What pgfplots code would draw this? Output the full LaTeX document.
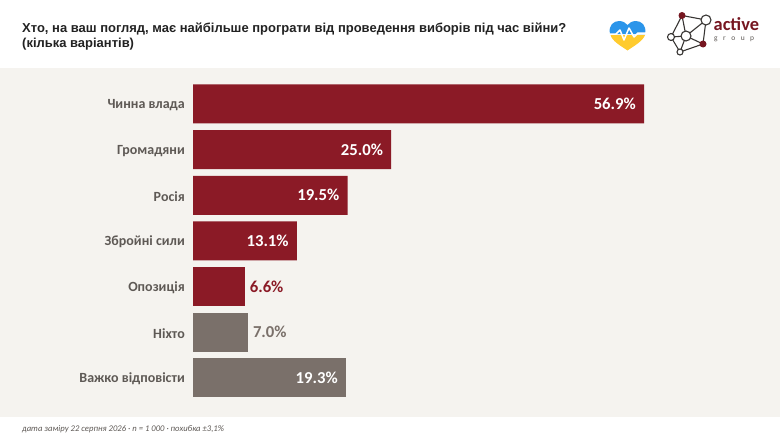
\documentclass[border=0pt]{standalone}
\usepackage{pgfplots}
\usepackage{fontspec}
\pgfplotsset{compat=1.18}
\setmainfont{Carlito}
\newfontfamily\titlefont{Liberation Sans}
\definecolor{barred}{HTML}{8B1A26}
\definecolor{bargray}{HTML}{7A706A}
\definecolor{panel}{HTML}{F5F3EF}
\definecolor{labelgray}{HTML}{5E5955}
\definecolor{titletext}{HTML}{222222}
\definecolor{ukblue}{HTML}{2B95EA}
\definecolor{ukyellow}{HTML}{FFCB2E}
\newcommand{\valfmt}{\pgfmathprintnumber[fixed,zerofill,precision=1,assume math mode=true]{\pgfplotspointmeta}\%}
\begin{document}
\begin{tikzpicture}
\useasboundingbox (0,0) rectangle (780pt,-439pt);
\begin{scope}[x=1pt,y=-1pt]
\fill[white] (0,0) rectangle (780,439);
\fill[panel] (0,68) rectangle (780,417);
% title
\node[anchor=west,inner sep=0pt,text=titletext,font=\titlefont\bfseries\fontsize{12.98}{16}\selectfont] at (22,29) {Хто, на ваш погляд, має найбільше програти від проведення виборів під час війни?};
\node[anchor=west,inner sep=0pt,text=titletext,font=\titlefont\bfseries\fontsize{12.98}{16}\selectfont] at (22,44.5) {(кілька варіантів)};
% footer
\node[anchor=west,inner sep=0pt,text=labelgray,font=\itshape\fontsize{8.66}{11}\selectfont] at (22,429) {дата заміру 22 серпня 2026 · n = 1 000 · похибка ±3,1\%};
% heart
\fill[ukyellow] (610.5,35) -- (645,35) .. controls (643,41) and (634,46) .. (627.5,50.5) .. controls (621,46) and (612,41) .. (610.5,35) -- cycle;
\fill[ukblue] (610,34) .. controls (608,25) and (614,21) .. (619,21) .. controls (623,21) and (626,23) .. (627.5,25) .. controls (629,23) and (632,21) .. (636,21) .. controls (641,21) and (647,25) .. (645,34) -- cycle;
\draw[white,line width=1.5pt,line join=round] (608,34) -- (616,34) -- (620,30) -- (624,40) -- (629,28) -- (634,37) -- (638,33) -- (647,33);
% network logo
\draw[labelgray!60!black,line width=1.1pt] (682,15.5) -- (706,20) -- (703,44) -- (680,52) -- (671,37) -- (682,15.5) (682,15.5) -- (686,36) -- (706,20) (671,37) -- (686,36) -- (703,44) (686,36) -- (680,52);
\foreach \px/\py/\pr in {706/20/5,686/36/5,671/37/3.5,680/52/3}
  \draw[labelgray!60!black,fill=white,line width=1.1pt] (\px,\py) circle[radius=\pr];
\foreach \px/\py in {682/15.5,703/44}
  \fill[barred!85!black] (\px,\py) circle[radius=3.5];
\node[anchor=west,inner sep=0pt,text=barred!85!black,font=\bfseries\fontsize{18.4}{18}\selectfont] at (713.5,24) {active};
\node[anchor=west,inner sep=0pt,text=labelgray,font=\fontsize{7.5}{8}\selectfont] at (714,39.5) {g\hspace{5.5pt}r\hspace{5.5pt}o\hspace{5.5pt}u\hspace{5.5pt}p};
\end{scope}
\begin{axis}[
    at={(193pt,-400.8pt)},
    anchor=south west,
    scale only axis,
    width=475.6pt,
    height=319.7pt,
    xmin=0, xmax=60,
    ymin=-0.5, ymax=6.5,
    y dir=reverse,
    ytick={0,1,2,3,4,5,6},
    yticklabels={Чинна влада,Громадяни,Росія,Збройні сили,Опозиція,Ніхто,Важко відповісти},
    yticklabel style={font=\bfseries\fontsize{14}{16}\selectfont,text=labelgray,inner sep=0pt,xshift=-8pt,yshift=-1pt},
    xtick=\empty,
    axis line style={draw=none},
    major tick length=0pt,
    xbar,
    bar shift=0pt,
    bar width=39pt,
    clip=false,
    nodes near coords=\valfmt,
    every node near coord/.append style={font=\bfseries\fontsize{16.7}{18}\selectfont},
]
% red, label inside
\addplot[fill=barred,draw=none,nodes near coords style={anchor=east,text=white,xshift=-4.7pt}]
    coordinates {(56.9,0) (25.0,1) (19.5,2) (13.1,3)};
% red, label outside
\addplot[fill=barred,draw=none,nodes near coords style={anchor=west,text=barred,xshift=1pt}]
    coordinates {(6.6,4)};
% grey, label outside
\addplot[fill=bargray,draw=none,nodes near coords style={anchor=west,text=bargray,xshift=1pt}]
    coordinates {(7.0,5)};
% grey, label inside
\addplot[fill=bargray,draw=none,nodes near coords style={anchor=east,text=white,xshift=-4.7pt}]
    coordinates {(19.3,6)};
\end{axis}
\end{tikzpicture}
\end{document}
